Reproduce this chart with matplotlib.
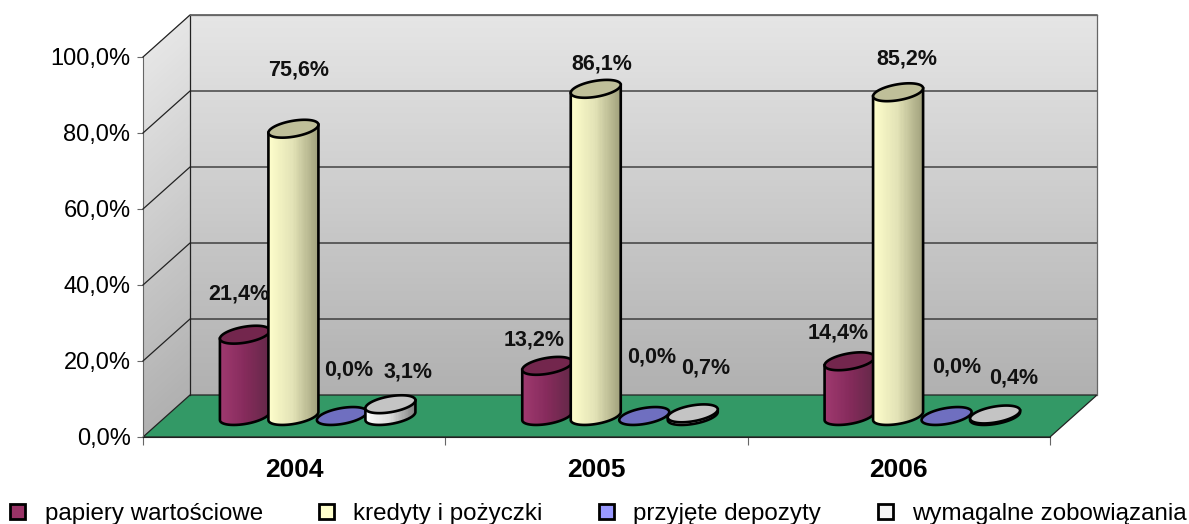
import numpy as np
import matplotlib
matplotlib.use("Agg")
import matplotlib.pyplot as plt
from matplotlib.colors import to_rgb
from matplotlib.patches import Patch

plt.rcParams['font.family'] = ['Liberation Sans', 'DejaVu Sans']

years = ['2004', '2005', '2006']
series_names = ['papiery wartościowe', 'kredyty i pożyczki', 'przyjęte depozyty', 'wymagalne zobowiązania']
papiery = [21.4, 13.2, 14.4]
kredyty = [75.6, 86.1, 85.2]
depozyty = [0.0, 0.0, 0.0]
zobowiazania = [3.1, 0.7, 0.4]
y_ticks = [0, 20, 40, 60, 80, 100]
y_tick_labels = ['0,0%', '20,0%', '40,0%', '60,0%', '80,0%', '100,0%']

# label nudges in pixels from the top centre of each cylinder
label_nudges = [
    [(-6, 41), (-13, 26), (-11, 28)],
    [(5, 59), (6, 25), (9, 33)],
    [(7, 46), (7, 59), (10, 49)],
    [(18, 32), (13, 45), (19, 36)],
]

face_colors = ['#993366', '#ffffcc', '#9999ff', '#f4f4f4']
top_colors = ['#73264d', '#bfbf99', '#6f6fc0', '#c4c4c4']
body_colors = [
    ['#a03a70', '#862b5c', '#642848'],
    ['#ffffcc', '#e2e2b6', '#a0a07c'],
    ['#8080d0', '#6f6fc0', '#505090'],
    ['#ffffff', '#dcdcdc', '#808080'],
]

# pixel to data scale, the plot is 907 x 380 px
X_PX = 3 / 907
Y_PX = 100 / 380
DEPTH_X = 47 * X_PX
DEPTH_Y = 42 * Y_PX
BAR_STEP = 48.5 * X_PX
A = 25 * X_PX
B = 8 * Y_PX
SHEAR = 4 * Y_PX


def mix(stops, f):
    stops = [np.array(to_rgb(c)) for c in stops]
    if f < 0.5:
        return stops[0] + (stops[1] - stops[0]) * f * 2
    return stops[1] + (stops[2] - stops[1]) * (f - 0.5) * 2


def ellipse(cx, cy, t):
    return cx + A * np.cos(t), cy + B * np.sin(t) + SHEAR * np.cos(t)


def draw_cylinder(ax, cx, value, i, z):
    y0 = DEPTH_Y / 2
    y1 = y0 + value
    if value > 0:
        ts = np.linspace(np.pi, 2 * np.pi, 61)
        for k in range(len(ts) - 1):
            xa, ya = ellipse(cx, y0, ts[k:k + 2])
            xb, yb = ellipse(cx, y1, ts[k:k + 2])
            f = (xa.mean() - cx + A) / (2 * A)
            ax.fill([xa[0], xa[1], xb[1], xb[0]], [ya[0], ya[1], yb[1], yb[0]],
                    color=mix(body_colors[i], f), lw=0, antialiased=False, clip_on=False, zorder=z)
        xa, ya = ellipse(cx, y0, ts)
        xb, yb = ellipse(cx, y1, ts)
        ax.plot(np.r_[xb[0], xa, xb[-1]], np.r_[yb[0], ya, yb[-1]], color='black', lw=1.9,
                clip_on=False, zorder=z, solid_joinstyle='round')
    t = np.linspace(0, 2 * np.pi, 121)
    x, y = ellipse(cx, y1, t)
    ax.fill(x, y, facecolor=top_colors[i], edgecolor='black', lw=1.9, clip_on=False, zorder=z)


def draw_walls(ax):
    levels = np.linspace(0, 100, 121)
    for k in range(len(levels) - 1):
        lo, hi = levels[k], levels[k + 1]
        g = 0.69 + 0.21 * (lo + hi) / 200
        ax.fill([DEPTH_X, 3 + DEPTH_X, 3 + DEPTH_X, DEPTH_X],
                [lo + DEPTH_Y, lo + DEPTH_Y, hi + DEPTH_Y, hi + DEPTH_Y],
                color=(g, g, g), lw=0, antialiased=False, clip_on=False, zorder=1)
        ax.fill([0, DEPTH_X, DEPTH_X, 0], [lo, lo + DEPTH_Y, hi + DEPTH_Y, hi],
                color=(g, g, g), lw=0, antialiased=False, clip_on=False, zorder=1)
    ax.fill([0, 3, 3 + DEPTH_X, DEPTH_X], [0, 0, DEPTH_Y, DEPTH_Y], facecolor='#339966',
            edgecolor='#222222', lw=0.9, clip_on=False, zorder=2)
    for v in y_ticks[1:]:
        ax.plot([0, DEPTH_X, 3 + DEPTH_X], [v, v + DEPTH_Y, v + DEPTH_Y], color='#222222', lw=0.9,
                clip_on=False, zorder=3)
    ax.plot([DEPTH_X, DEPTH_X], [DEPTH_Y, 100 + DEPTH_Y], color='#222222', lw=0.9, clip_on=False, zorder=3)
    ax.plot([3 + DEPTH_X, 3 + DEPTH_X], [DEPTH_Y, 100 + DEPTH_Y], color='#666666', lw=0.9, clip_on=False, zorder=3)
    ax.plot([DEPTH_X, 3 + DEPTH_X], [100 + DEPTH_Y, 100 + DEPTH_Y], color='#666666', lw=0.9, clip_on=False, zorder=3)


def main():
    fig = plt.figure(figsize=(11.89, 5.24), dpi=100)
    ax = fig.add_axes([143 / 1189, (524 - 437) / 524, 907 / 1189, 380 / 524])
    ax.set_xlim(0, 3)
    ax.set_ylim(0, 100)
    ax.patch.set_visible(False)
    for side in ['top', 'right']:
        ax.spines[side].set_visible(False)
    ax.spines['left'].set_color('#666666')
    ax.spines['bottom'].set_color('#222222')

    draw_walls(ax)

    data = [papiery, kredyty, depozyty, zobowiazania]
    z = 5
    for c in range(len(years)):
        for i, values in enumerate(data):
            cx = c + 0.5 + DEPTH_X / 2 + (i - 1.5) * BAR_STEP
            draw_cylinder(ax, cx, values[c], i, z)
            z += 1
            text = f'{values[c]:.1f}%'.replace('.', ',')
            ax.annotate(text, (cx, DEPTH_Y / 2 + values[c]), xytext=label_nudges[i][c],
                        textcoords='offset pixels', ha='center', va='center',
                        fontsize=15.5, fontweight='bold', color='#111111', zorder=50,
                        annotation_clip=False)

    ax.set_yticks(y_ticks)
    ax.set_yticklabels(y_tick_labels, fontsize=17)
    ax.tick_params(axis='y', length=4, width=0.8, color='#666666', pad=5)
    ax.set_xticks([0, 1, 2, 3])
    ax.set_xticklabels([])
    ax.tick_params(axis='x', which='major', length=6, width=0.8, color='#666666')
    ax.set_xticks([0.5, 1.5, 2.5], minor=True)
    ax.set_xticklabels(years, minor=True, fontsize=19, fontweight='bold')
    ax.tick_params(axis='x', which='minor', length=0, pad=15)

    handles = [Patch(facecolor=fc, edgecolor='black', lw=2) for fc in face_colors]
    fig.legend(handles, series_names, ncol=4, loc='lower left', bbox_to_anchor=(-0.0075, -0.039),
               frameon=False, fontsize=17.4, handlelength=0.62, handleheight=0.62,
               handletextpad=0.8, columnspacing=2.33, borderaxespad=0.4, borderpad=0.4)

    fig.savefig('out.png', dpi=100)


if __name__ == '__main__':
    main()
